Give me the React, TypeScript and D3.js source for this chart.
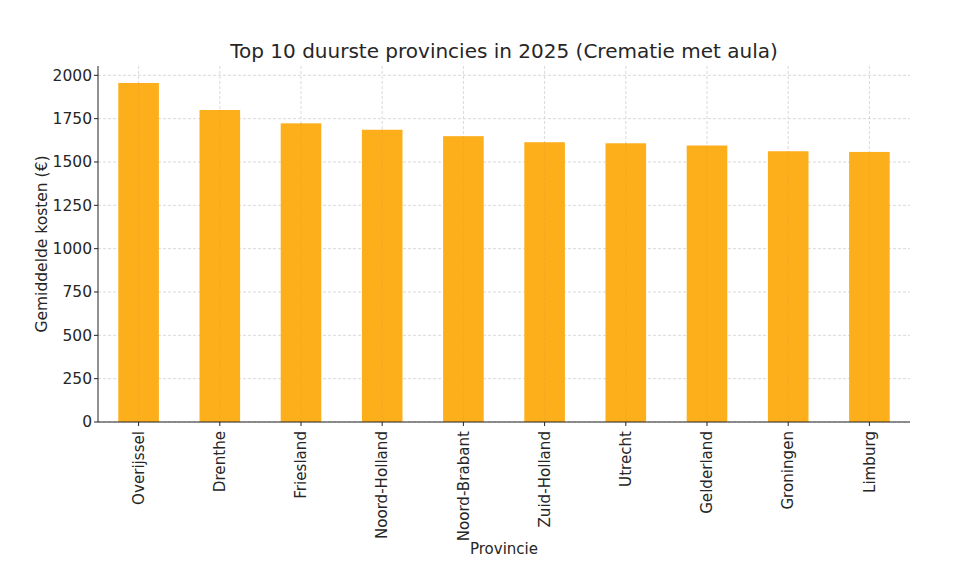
import React, { useRef, useEffect } from 'react';
import * as d3 from 'd3';

const provinces = ['Overijssel', 'Drenthe', 'Friesland', 'Noord-Holland', 'Noord-Brabant', 'Zuid-Holland', 'Utrecht', 'Gelderland', 'Groningen', 'Limburg'];
const costs = [1956, 1800, 1723, 1686, 1649, 1614, 1608, 1595, 1562, 1558];
const yTicks = [0, 250, 500, 750, 1000, 1250, 1500, 1750, 2000];

const App: React.FC = () => {
    const svgRef = useRef<SVGSVGElement>(null);

    useEffect(() => {
        const width = 975;
        const height = 570;
        const margin = { top: 66, right: 65, bottom: 148, left: 98 };
        const innerW = width - margin.left - margin.right;
        const innerH = height - margin.top - margin.bottom;
        const font = 'DejaVu Sans, sans-serif';

        const svg = d3.select(svgRef.current);
        svg.selectAll('*').remove();
        svg.attr('width', width).attr('height', height);

        const yMax = d3.max(costs) as number * 1.05;
        const x = d3.scaleLinear().domain([-0.5, provinces.length - 0.5]).range([0, innerW]);
        const y = d3.scaleLinear().domain([0, yMax]).range([innerH, 0]);
        const barW = x(0.5) - x(0);

        const g = svg.append('g').attr('transform', `translate(${margin.left},${margin.top})`);

        // grid
        g.selectAll('.hgrid')
            .data(yTicks)
            .join('line')
            .attr('x1', 0).attr('x2', innerW)
            .attr('y1', d => y(d)).attr('y2', d => y(d))
            .attr('stroke', '#cfcfcf').attr('stroke-width', 0.8).attr('stroke-dasharray', '3,2');

        g.selectAll('.vgrid')
            .data(provinces)
            .join('line')
            .attr('x1', (_, i) => x(i)).attr('x2', (_, i) => x(i))
            .attr('y1', 0).attr('y2', innerH)
            .attr('stroke', '#cfcfcf').attr('stroke-width', 0.8).attr('stroke-dasharray', '3,2');

        // bars
        g.selectAll('.bar')
            .data(costs)
            .join('rect')
            .attr('x', (_, i) => x(i) - barW / 2)
            .attr('y', d => y(d))
            .attr('width', barW)
            .attr('height', d => innerH - y(d))
            .attr('fill', '#FDAE1B');

        // faint grid showing through bars
        g.selectAll('.vgrid2')
            .data(costs)
            .join('line')
            .attr('x1', (_, i) => x(i)).attr('x2', (_, i) => x(i))
            .attr('y1', d => y(d)).attr('y2', innerH)
            .attr('stroke', '#eaa52a').attr('stroke-width', 0.6).attr('stroke-dasharray', '3,2');

        // axes spines
        g.append('line').attr('x1', 0).attr('x2', 0).attr('y1', 0).attr('y2', innerH).attr('stroke', '#222').attr('stroke-width', 1);
        g.append('line').attr('x1', 0).attr('x2', innerW).attr('y1', innerH).attr('y2', innerH).attr('stroke', '#222').attr('stroke-width', 1);

        // y ticks
        const yt = g.selectAll('.ytick').data(yTicks).join('g').attr('transform', d => `translate(0,${y(d)})`);
        yt.append('line').attr('x1', -4).attr('x2', 0).attr('stroke', '#222');
        yt.append('text')
            .attr('x', -6).attr('dy', '0.35em')
            .attr('text-anchor', 'end')
            .attr('font-family', font).attr('font-size', 15.5).attr('fill', '#262626')
            .text(d => d);

        // x ticks
        const xt = g.selectAll('.xtick').data(provinces).join('g').attr('transform', (_, i) => `translate(${x(i)},${innerH})`);
        xt.append('line').attr('y1', 0).attr('y2', 4).attr('stroke', '#222');
        xt.append('text')
            .attr('transform', 'translate(0,9) rotate(-90)')
            .attr('dy', '0.35em')
            .attr('text-anchor', 'end')
            .attr('font-family', font).attr('font-size', 15.1).attr('fill', '#262626')
            .text(d => d);

        // title
        svg.append('text')
            .attr('x', margin.left + innerW / 2).attr('y', 58)
            .attr('text-anchor', 'middle')
            .attr('font-family', font).attr('font-size', 20).attr('fill', '#262626')
            .text('Top 10 duurste provincies in 2025 (Crematie met aula)');

        // axis labels
        svg.append('text')
            .attr('x', margin.left + innerW / 2).attr('y', 554)
            .attr('text-anchor', 'middle')
            .attr('font-family', font).attr('font-size', 15).attr('fill', '#262626')
            .text('Provincie');

        svg.append('text')
            .attr('transform', `translate(47,${margin.top + innerH / 2}) rotate(-90)`)
            .attr('text-anchor', 'middle')
            .attr('font-family', font).attr('font-size', 15.5).attr('fill', '#262626')
            .text('Gemiddelde kosten (€)');
    }, []);

    return (
        <div style={{ position: 'absolute', left: 0, top: 0 }}>
            <svg ref={svgRef}></svg>
        </div>
    );
};

export default App;
